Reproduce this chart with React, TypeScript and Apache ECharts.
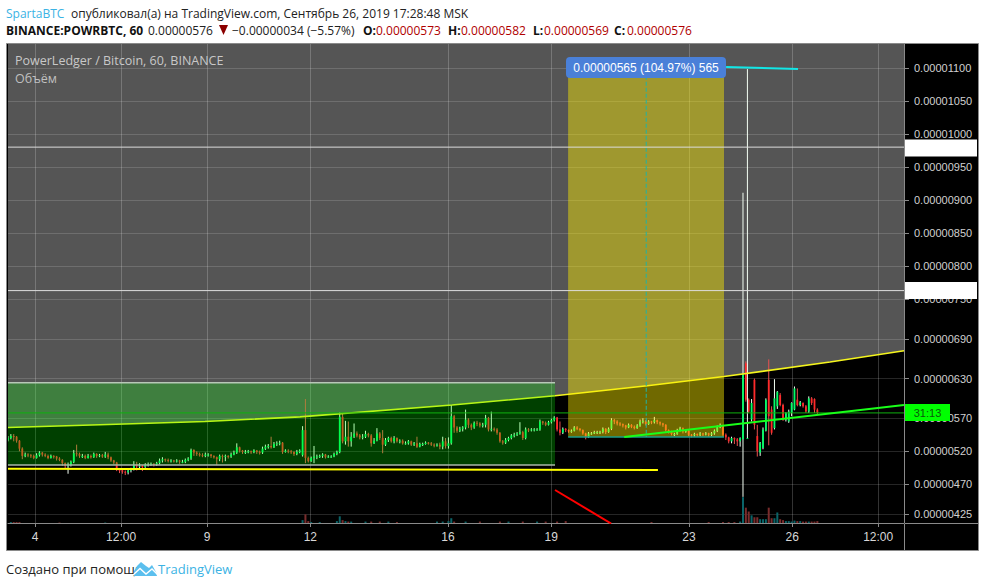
import React, { useEffect, useRef } from "react";
import * as echarts from "echarts";

// Prices are in units of 0.00000001 BTC. Days are days of September 2019.
const priceTicks = [425, 470, 520, 570, 630, 690, 750, 800, 850, 900, 950, 1000, 1050, 1100];
const dayTicks = [4, 6.5, 9, 12, 16, 19, 23, 26, 28.5];
const dayTickLabels = ["4", "12:00", "9", "12", "16", "19", "23", "26", "12:00"];
const firstDay = 3.215;
const lastDay = 29.25;
const candleStep = 0.0831; // two-hour candles on the picture's time scale

// [open, close, low, high]
const candles: number[][] = [
  [537,540,535,543],[540,543,538,546],[543,542,535,546],[542,536,533,543],[536,524,520,537],[524,513,508,526],[513,515,511,518],[515,514,511,517],[514,513,510,516],[513,510,508,515],[510,514,509,517],[514,518,512,520],[518,515,512,519],[515,513,511,517],[513,510,508,515],[510,513,509,515],[513,512,509,514],[512,509,506,513],[509,507,505,511],[507,502,498,508],[502,498,494,503],[498,499,486,503],[499,504,497,506],[504,517,502,522],[517,516,512,530],[516,513,510,518],[513,513,510,516],[513,510,508,515],[510,513,509,516],[513,511,509,515],[511,516,510,518],[516,513,510,517],[513,514,511,516],[514,512,510,516],[512,515,510,519],[515,511,508,518],[511,506,504,512],[506,503,500,507],[503,492,490,504],[492,491,487,493],[491,489,486,492],[489,488,484,491],[488,491,485,493],[491,493,488,495],[493,499,491,505],[499,497,491,504],[497,498,492,502],[498,496,490,499],
  [496,500,495,502],[500,500,497,503],[500,501,498,503],[501,500,497,502],[500,502,498,504],[502,506,500,509],[506,508,503,511],[508,507,504,509],[507,505,503,509],[505,506,503,508],[506,505,503,507],[505,506,503,508],[506,504,501,507],[504,504,502,507],[504,507,502,509],[507,509,505,511],[509,522,507,524],[522,518,513,523],[518,516,513,520],[516,514,512,518],[514,513,511,517],[513,515,511,518],[515,515,512,517],[515,513,510,516],[513,511,509,514],[511,508,499,512],[508,513,505,515],[513,512,503,515],[512,513,505,515],[513,512,509,514],[512,515,510,518],[515,518,514,521],[518,526,516,532],[526,521,518,527],[521,519,516,522],[519,519,516,522],[519,520,517,522],[520,519,516,521],[519,521,517,523],[521,519,516,522],[519,518,515,521],[518,524,516,527],[524,527,522,530],[527,528,524,531],[528,526,524,542],[526,531,525,534],[531,532,528,535],[532,533,529,536],[533,519,516,534],
  [519,521,518,523],[521,520,517,523],[520,519,516,522],[519,516,513,520],[516,519,514,522],[519,521,517,523],[514,552,512,558],[552,510,502,599],[510,505,503,512],[505,510,504,512],[510,512,502,528],[512,512,508,515],[512,513,510,515],[513,515,510,517],[515,511,509,516],[511,512,510,514],[512,512,510,514],[512,516,511,518],[516,519,514,521],[519,572,517,579],[572,535,532,577],[535,542,530,566],[542,535,527,565],[535,542,527,549],[542,547,540,562],[547,544,541,550],[544,541,538,546],[541,542,538,546],[542,546,540,551],[546,544,541,548],[544,532,527,546],[532,536,531,540],[536,547,535,555],[547,540,537,549],[540,530,517,552],[530,537,528,540],[537,540,534,542],[540,535,533,542],[535,540,532,543],[540,535,533,541],[535,536,532,538],[536,532,530,538],[532,532,530,535],[532,535,530,537],[535,530,528,536],[530,532,528,534],[532,527,525,542],[527,531,526,533],[531,531,528,533],
  [531,533,530,535],[533,532,530,534],[532,530,528,534],[530,529,526,532],[529,530,527,532],[530,527,523,533],[527,535,523,542],[535,528,524,540],[528,532,524,541],[532,573,530,590],[573,556,548,575],[556,551,548,558],[551,554,549,557],[554,556,550,558],[556,568,553,583],[568,560,555,570],[560,556,552,562],[556,563,554,565],[563,562,558,566],[562,559,556,564],[559,560,556,563],[560,570,556,575],[570,553,550,572],[553,554,550,580],[554,553,550,556],[553,548,545,555],[548,535,533,549],[535,533,530,537],[533,537,531,540],[537,540,535,542],[540,544,538,546],[544,545,541,548],[545,547,543,549],[547,549,545,564],[549,540,537,551],[540,553,538,556],[553,552,549,555],[552,553,550,555],[553,553,550,555],[553,553,551,555],[553,565,551,568],[565,563,560,566],[563,560,558,565],[560,564,559,566],[564,567,562,569],[567,571,565,573],[571,553,550,572],[553,548,544,565],[548,554,546,556],
  [554,552,549,555],[552,550,548,553],[550,551,548,553],[551,556,550,558],[556,554,552,558],[554,552,550,555],[552,547,545,553],[547,541,538,548],[541,547,540,549],[547,547,545,549],[547,549,546,551],[549,549,546,551],[549,549,546,551],[549,554,547,556],[554,549,546,555],[549,554,548,556],[554,567,552,570],[567,565,561,569],[565,562,559,567],[562,561,558,564],[561,559,556,562],[559,556,553,560],[556,560,555,562],[560,557,555,561],[557,555,553,559],[555,559,554,561],[559,565,557,568],[565,566,562,570],[566,561,559,567],[561,565,560,567],[565,564,561,566],[564,567,562,572],[567,564,561,568],[564,562,559,565],[562,560,557,563],[560,552,550,561],[552,550,547,553],[550,546,544,551],[546,546,543,548],[546,552,545,554],[552,555,550,557],[555,550,547,556],[550,551,548,553],[551,545,543,552],[545,544,541,546],[544,546,542,548],[546,545,542,547],[545,547,543,549],[547,546,543,548],[546,547,544,549],[547,545,542,548],[545,547,543,549],[547,551,545,553],[551,557,549,559],[557,559,555,562],[559,545,542,560],
  [545,541,537,547],[541,535,532,542],[535,540,532,542],[540,538,531,541],[538,535,528,540],[535,540,527,541],
  [538,636,451,911],
  [653,598,595,656],[598,580,578,600],[568,593,565,599],[628,560,553,630],[543,520,512,560],[518,533,513,534],[525,553,523,556],[551,598,550,600],[628,573,529,659],[583,548,545,588],[555,600,553,629],[588,610,584,611],[605,590,588,608],[590,568,566,592],[568,578,565,579],[565,580,563,583],[578,593,573,594],[583,615,582,618],[598,590,588,615],[590,594,588,596],[593,588,586,594],[588,580,578,590],[580,600,578,603],[600,593,590,602],[599,583,578,600],[583,578,576,585],
];
// The thin upper part of the spike: [day, open, close, low, high]
const spikeWick = [24.70, 540, 540, 540, 1098];

// [candle index, volume]
const volumes: number[][] = [
  [1,2],[2,2],[3,2],[4,2],[18,1],[34,1],[103,6],[104,18],[105,4],[106,2],[109,2],[115,4],[116,14],[117,6],[118,4],[119,3],[120,3],[125,3],[127,3],[130,3],[133,3],[136,2],[150,3],[152,3],[154,4],[155,10],[156,3],[160,3],[165,3],[172,3],[175,3],[180,3],[185,3],[188,3],[192,3],[195,4],[225,2],[245,2],[250,2],[252,2],[254,2],[256,3],[257,54],[258,32],[259,24],[260,16],[261,12],[262,12],[263,8],[264,8],[265,8],[266,32],[267,10],[268,10],[269,22],[270,8],[271,6],[272,4],[273,4],[274,3],[275,5],[276,4],[277,4],[278,3],[279,3],[280,3],[281,3],[282,3],[283,4],
];

const curveDays = [3.215, 5.889, 8.94, 11.7, 16.12, 19.11, 21.79, 24.02, 27.1, 29.25];
const curvePrices = [556, 560, 565, 572, 590, 604, 619, 633, 655, 672];
const supportLine = [[3.215, 493.4], [22.1, 491.7]];
const trendLine = [[21.12, 541.6], [29.25, 590]];
const redLine = [[19.11, 461.4], [20.74, 410.7]];
const cyanLine = [[24.08, 1101.4], [26.17, 1098.3]];
const levelHigh = [[3.215, 980], [29.25, 980]];
const levelLow = [[3.215, 763], [29.25, 763]];
const lastPriceLine = [[3.215, 578], [29.25, 578]];
const measureMid = [[21.76, 1097], [21.76, 541.6]];
// [day from, day to, price low, price high]
const greenBox = [3.215, 19.11, 499.2, 623.7];
const yellowBox = [19.49, 24.02, 541.6, 1097];

const SANS = '"Liberation Sans", Arial, sans-serif';
const HEAD = '"Open Sans", sans-serif';

const lineSeries = (points: number[][], color: string, width: number, z: number, type: string = "solid") => ({
  type: "line",
  data: points,
  showSymbol: false,
  silent: true,
  z,
  lineStyle: { color, width, type },
});

const boxSeries = (box: number[], fill: string, edges: any[], z: number) => ({
  type: "custom",
  silent: true,
  clip: true,
  z,
  data: [box],
  encode: { x: [0, 1], y: [2, 3] },
  renderItem: (_: any, api: any) => {
    const a = api.coord([api.value(0), api.value(3)]);
    const b = api.coord([api.value(1), api.value(2)]);
    const children: any[] = [
      { type: "rect", shape: { x: a[0], y: a[1], width: b[0] - a[0], height: b[1] - a[1] }, style: { fill } },
    ];
    edges.forEach((e) => {
      const y = e.side === "top" ? a[1] : b[1];
      children.push({
        type: "line",
        shape: { x1: a[0], y1: y, x2: b[0], y2: y },
        style: { stroke: e.color, lineWidth: e.width, fill: "none" },
      });
    });
    return { type: "group", children };
  },
});

const candleItem = (api: any) => {
  const day = api.value(0);
  const o = api.value(1);
  const c = api.value(2);
  const up = c >= o;
  const wickTop = api.coord([day, api.value(4)]);
  const wickBottom = api.coord([day, api.value(3)]);
  const top = api.coord([day, Math.max(o, c)]);
  const bottom = api.coord([day, Math.min(o, c)]);
  return {
    type: "group",
    children: [
      {
        type: "line",
        shape: { x1: wickTop[0], y1: wickTop[1], x2: wickBottom[0], y2: wickBottom[1] },
        style: { stroke: up ? "#f4fff4" : "#e85050", lineWidth: 1, fill: "none" },
      },
      {
        type: "rect",
        shape: { x: top[0] - 0.9, y: top[1], width: 1.8, height: Math.max(bottom[1] - top[1], 1) },
        style: { fill: up ? "#00ff66" : "#ff2a2a" },
      },
    ],
  };
};

const headerText = (x: number, y: number, text: string, fill: string, weight = "normal", size = 12, family = HEAD) => ({
  type: "text",
  x,
  y,
  z: 20,
  silent: true,
  style: { text, fill, font: `${weight} ${size}px ${family}`, verticalAlign: "middle", align: "left" },
});

export default function App() {
  const ref = useRef<HTMLDivElement>(null);
  useEffect(() => {
    const chart = echarts.init(ref.current!, undefined, { renderer: "svg" });
    const candleRows = candles.map((c, i) => [firstDay + 0.0 + i * candleStep, ...c]);
    const volumeRows = volumes.map(([i, v]) => {
      const c = candles[i];
      return {
        value: [firstDay + i * candleStep, v],
        itemStyle: { color: c[1] >= c[0] ? "#0b6468" : "#7a2c2c" },
      };
    });
    const grey = "rgba(255,255,255,0.15)";
    chart.setOption({
      animation: false,
      backgroundColor: "#ffffff",
      grid: { left: 8, right: 81, top: 44, bottom: 64, containLabel: false },
      xAxis: {
        type: "value",
        min: firstDay,
        max: lastDay,
        axisLine: { show: true, onZero: false, lineStyle: { color: "#8a8a8a", width: 1 } },
        axisTick: { show: true, length: 4, customValues: dayTicks, lineStyle: { color: "#8a8a8a" } },
        axisLabel: {
          customValues: dayTicks,
          color: "#d8d8d8",
          fontFamily: SANS,
          fontSize: 12,
          margin: 8,
          formatter: (v: number) => dayTickLabels[dayTicks.indexOf(v)] ?? "",
        },
        splitLine: { show: true, lineStyle: { color: "rgba(255,255,255,0.2)", width: 1 } },
      },
      yAxis: [
        {
          type: "value",
          position: "right",
          min: 411.5,
          max: 1136,
          axisLine: { show: true, onZero: false, lineStyle: { color: "#8a8a8a", width: 1 } },
          axisTick: { show: true, length: 5, customValues: priceTicks, lineStyle: { color: "#8a8a8a" } },
          axisLabel: {
            customValues: priceTicks,
            color: "#d0d0d0",
            fontFamily: SANS,
            fontSize: 11,
            margin: 10,
            formatter: (v: number) => (v / 1e8).toFixed(8),
          },
          splitLine: { show: true, lineStyle: { color: grey, width: 1 } },
        },
        { type: "value", show: false, min: 0, max: 1000, splitLine: { show: false } },
      ],
      series: [
        {
          type: "line",
          data: curveDays.map((d, i) => [d, curvePrices[i]]),
          showSymbol: false,
          silent: true,
          z: -1,
          lineStyle: { width: 0 },
          areaStyle: { origin: "end", color: "#555555", opacity: 1 },
        },
        {
          type: "bar",
          yAxisIndex: 1,
          data: volumeRows,
          barWidth: 2,
          silent: true,
          z: 2,
        },
        {
          type: "custom",
          silent: true,
          z: 2,
          clip: true,
          data: candleRows.concat([spikeWick]),
          encode: { x: 0, y: [1, 2, 3, 4] },
          renderItem: (_: any, api: any) => candleItem(api),
        },
        lineSeries(curveDays.map((d, i) => [d, curvePrices[i]]), "#f5f51e", 1.6, 3),
        boxSeries(greenBox, "rgba(0,255,0,0.25)", [
          { side: "top", color: "#b8c8b8", width: 1.5 },
          { side: "bottom", color: "#a8b8a8", width: 1.5 },
        ], 4),
        boxSeries(yellowBox, "rgba(255,238,0,0.44)", [{ side: "bottom", color: "#1c9c8c", width: 1.5 }], 4),
        lineSeries(measureMid, "#1fb5a5", 1, 5, "dashed"),
        lineSeries(lastPriceLine, "#0fb00f", 1, 5),
        lineSeries(levelHigh, "#dddddd", 1, 5),
        lineSeries(levelLow, "#dddddd", 1, 5),
        lineSeries(supportLine, "#ffff00", 2, 5),
        lineSeries(trendLine, "#19ff19", 2, 6),
        lineSeries(redLine, "#ff0000", 2, 5),
        lineSeries(cyanLine, "#12e6e6", 2, 6),
      ],
      graphic: [
        {
          type: "rect",
          z: -10,
          silent: true,
          shape: { x: 6.5, y: 43.5, width: 972, height: 507 },
          style: { fill: "#000000", stroke: "#8a8a8a", lineWidth: 1 },
        },
        { type: "line", z: 1, silent: true, shape: { x1: 904.5, y1: 524, x2: 904.5, y2: 550 }, style: { stroke: "#8a8a8a", lineWidth: 1 } },
        { type: "line", z: 1, silent: true, shape: { x1: 905, y1: 523.5, x2: 978, y2: 523.5 }, style: { stroke: "#8a8a8a", lineWidth: 1 } },

        headerText(6, 13, "SpartaBTC", "#3bb3e4"),
        headerText(71, 13, "опубликовал(а) на TradingView.com, Сентябрь 26, 2019 17:28:48 MSK", "#222222"),
        headerText(6, 30, "BINANCE:POWRBTC, 60", "#111111", "bold"),
        headerText(148, 30, "0.00000576", "#222222"),
        { type: "polygon", z: 20, silent: true, shape: { points: [[219, 25], [228, 25], [223.5, 35]] }, style: { fill: "#8b0000" } },
        headerText(232, 30, "−0.00000034 (−5.57%)", "#222222"),
        headerText(363, 30, "O:", "#111111", "bold"),
        headerText(376, 30, "0.00000573", "#b00000"),
        headerText(448, 30, "H:", "#111111", "bold"),
        headerText(461, 30, "0.00000582", "#b00000"),
        headerText(533, 30, "L:", "#111111", "bold"),
        headerText(544, 30, "0.00000569", "#b00000"),
        headerText(614, 30, "C:", "#111111", "bold"),
        headerText(627, 30, "0.00000576", "#b00000"),

        headerText(15, 60, "PowerLedger / Bitcoin, 60, BINANCE", "#c8c8c8", "normal", 12.5),
        headerText(15, 78, "Объём", "#c0c0c0", "normal", 12.5),

        { type: "rect", z: 21, silent: true, shape: { x: 566, y: 57, width: 160, height: 21, r: 4 }, style: { fill: "#4a80d8" } },
        {
          type: "text",
          z: 22,
          silent: true,
          x: 646,
          y: 67.5,
          style: { text: "0.00000565 (104.97%) 565", fill: "#ffffff", font: `12px ${SANS}`, align: "center", verticalAlign: "middle" },
        },

        { type: "rect", z: 21, silent: true, shape: { x: 905, y: 139.5, width: 72, height: 17 }, style: { fill: "#ffffff" } },
        headerText(914, 148, "0.00000977", "#222222", "normal", 11, SANS),
        { type: "rect", z: 21, silent: true, shape: { x: 905, y: 282, width: 72, height: 17 }, style: { fill: "#ffffff" } },
        headerText(914, 290.5, "0.00000759", "#222222", "normal", 11, SANS),
        { type: "rect", z: 21, silent: true, shape: { x: 905, y: 404, width: 45, height: 17 }, style: { fill: "#00ff00" } },
        {
          type: "text",
          z: 22,
          silent: true,
          x: 927.5,
          y: 412.5,
          style: { text: "31:13", fill: "#0a5a0a", font: `11px ${SANS}`, align: "center", verticalAlign: "middle" },
        },

        headerText(6, 569, "Создано при помощи", "#222222", "normal", 13),
        { type: "polygon", z: 20, silent: true, shape: { points: [[134, 571], [137, 566], [141, 562], [146, 566], [149, 568], [152, 565], [156, 572], [157, 576], [134, 576]] }, style: { fill: "#5bbfee" } },
        { type: "polyline", z: 21, silent: true, shape: { points: [[133, 575], [140, 568.5], [146, 574], [152, 569], [158, 575]] }, style: { stroke: "#ffffff", lineWidth: 1.4, fill: "none" } },
        headerText(158, 569, "TradingView", "#3bb3e4", "normal", 13),
      ],
    });
    return () => chart.dispose();
  }, []);
  return <div ref={ref} style={{ position: "absolute", left: 0, top: 0, width: 985, height: 587 }} />;
}
